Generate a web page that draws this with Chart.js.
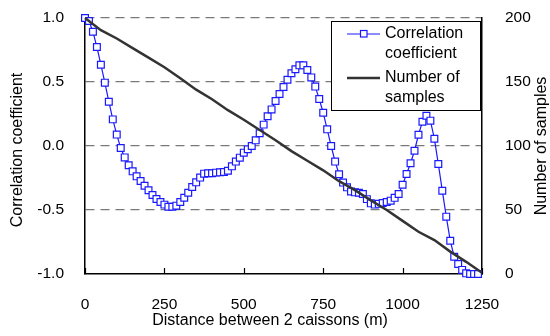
<!DOCTYPE html>
<html>
<head>
<meta charset="utf-8">
<script src="https://cdn.jsdelivr.net/npm/chart.js@4.4.0/dist/chart.umd.min.js"></script>
<style>
  html, body { margin: 0; padding: 0; background: #fff; }
  #wrap { width: 550px; height: 336px; }
</style>
</head>
<body>
<div id="wrap"><canvas id="chart" width="550" height="336"></canvas></div>
<script>
// distance between the 2 caissons (m), one marker every 12.5 m
const distances = [
  0, 12.5, 25, 37.5, 50, 62.5, 75, 87.5, 100, 112.5,
  125, 137.5, 150, 162.5, 175, 187.5, 200, 212.5, 225, 237.5,
  250, 262.5, 275, 287.5, 300, 312.5, 325, 337.5, 350, 362.5,
  375, 387.5, 400, 412.5, 425, 437.5, 450, 462.5, 475, 487.5,
  500, 512.5, 525, 537.5, 550, 562.5, 575, 587.5, 600, 612.5,
  625, 637.5, 650, 662.5, 675, 687.5, 700, 712.5, 725, 737.5,
  750, 762.5, 775, 787.5, 800, 812.5, 825, 837.5, 850, 862.5,
  875, 887.5, 900, 912.5, 925, 937.5, 950, 962.5, 975, 987.5,
  1000, 1012.5, 1025, 1037.5, 1050, 1062.5, 1075, 1087.5, 1100, 1112.5,
  1125, 1137.5, 1150, 1162.5, 1175, 1187.5, 1200, 1212.5, 1225, 1237.5
];

const correlation = [
  1.0, 0.977, 0.893, 0.773, 0.635, 0.495, 0.346, 0.208, 0.089, -0.016,
  -0.089, -0.151, -0.198, -0.237, -0.273, -0.31, -0.346, -0.383, -0.414, -0.438,
  -0.458, -0.474, -0.474, -0.466, -0.438, -0.404, -0.365, -0.32, -0.284, -0.247,
  -0.216, -0.213, -0.213, -0.208, -0.206, -0.203, -0.193, -0.159, -0.122, -0.091,
  -0.052, -0.026, 0.0, 0.044, 0.099, 0.167, 0.232, 0.286, 0.352, 0.406,
  0.461, 0.518, 0.568, 0.599, 0.63, 0.63, 0.594, 0.536, 0.464, 0.367,
  0.26, 0.13, 0.0, -0.122, -0.221, -0.286, -0.323, -0.355, -0.362, -0.365,
  -0.375, -0.415, -0.448, -0.458, -0.452, -0.445, -0.437, -0.427, -0.405, -0.375,
  -0.303, -0.219, -0.135, -0.037, 0.088, 0.19, 0.236, 0.198, 0.057, -0.141,
  -0.349, -0.552, -0.74, -0.865, -0.922, -0.968, -0.995, -1.0, -1.0, -1.0
];

// number of samples, read every 50 m
const sampleDist = [0, 50, 100, 150, 200, 250, 300, 350, 400, 450, 500, 550, 600,
  650, 700, 750, 800, 850, 900, 950, 1000, 1050, 1100, 1150, 1200, 1250];
const sampleCount = [200, 190.5, 184, 176.5, 169, 161.5, 153, 144, 136.5, 128, 120.5, 112.5, 104.5,
  96, 88.5, 81, 72.5, 65.5, 57.5, 50, 41.5, 33, 26.5, 17.5, 9.5, 1];

const xTicks = [0, 250, 500, 750, 1000, 1250];
const leftTicks = [-1.0, -0.5, 0.0, 0.5, 1.0];
const rightTicks = [0, 50, 100, 150, 200];

const FONT = "'Liberation Sans', Arial, sans-serif";
const BLUE = '#1a1aff';

// legend in a box, labels on two lines each
const boxLegend = {
  id: 'boxLegend',
  afterDatasetsDraw(chart) {
    const { ctx, chartArea: a } = chart;
    const x0 = a.right - 151, y0 = a.top + 3, w = 149, h = 89;
    ctx.save();
    ctx.fillStyle = '#fff';
    ctx.fillRect(x0, y0, w, h);
    ctx.strokeStyle = '#000';
    ctx.lineWidth = 1;
    ctx.strokeRect(x0 + 0.5, y0 + 0.5, w, h);

    // blue sample
    ctx.strokeStyle = BLUE;
    ctx.lineWidth = 1.2;
    ctx.beginPath();
    ctx.moveTo(x0 + 16, y0 + 13);
    ctx.lineTo(x0 + 49, y0 + 13);
    ctx.stroke();
    ctx.fillStyle = '#fff';
    ctx.fillRect(x0 + 29, y0 + 10, 7, 7);
    ctx.strokeRect(x0 + 29.5, y0 + 9.5, 6.5, 6.5);

    // black sample
    ctx.strokeStyle = '#333';
    ctx.lineWidth = 2.5;
    ctx.beginPath();
    ctx.moveTo(x0 + 16, y0 + 57);
    ctx.lineTo(x0 + 49, y0 + 57);
    ctx.stroke();

    ctx.fillStyle = '#000';
    ctx.font = '16px ' + FONT;
    ctx.textBaseline = 'middle';
    ctx.textAlign = 'left';
    ctx.fillText('Correlation', x0 + 54, y0 + 13);
    ctx.fillText('coefficient', x0 + 54, y0 + 33);
    ctx.fillText('Number of', x0 + 54, y0 + 57);
    ctx.fillText('samples', x0 + 54, y0 + 77);
    ctx.restore();
  }
};

// inward tick marks on the distance axis, and the three axis titles
const axisExtras = {
  id: 'axisExtras',
  afterDraw(chart) {
    const { ctx, chartArea: a, scales } = chart;
    ctx.save();
    ctx.strokeStyle = '#000';
    ctx.lineWidth = 1.2;
    xTicks.forEach(v => {
      const px = Math.round(scales.x.getPixelForValue(v)) + 0.5;
      ctx.beginPath();
      ctx.moveTo(px, a.bottom);
      ctx.lineTo(px, a.bottom - 6);
      ctx.stroke();
    });
    ctx.fillStyle = '#000';
    ctx.font = '16px ' + FONT;
    ctx.textAlign = 'center';
    ctx.textBaseline = 'middle';
    ctx.fillText('Distance between 2 caissons (m)', 270, chart.height - 15);

    ctx.save();
    ctx.translate(18, (a.top + a.bottom) / 2 + 4);
    ctx.rotate(-Math.PI / 2);
    ctx.fillText('Correlation coefficient', 0, 0);
    ctx.restore();

    ctx.translate(scales.y2.right - 8, (a.top + a.bottom) / 2);
    ctx.rotate(-Math.PI / 2);
    ctx.fillText('Number of samples', 0, 0);
    ctx.restore();
  }
};

new Chart(document.getElementById('chart'), {
  type: 'line',
  data: {
    datasets: [
      {
        label: 'Number of samples',
        data: sampleDist.map((d, i) => ({ x: d, y: sampleCount[i] })),
        yAxisID: 'y2',
        borderColor: '#333',
        borderWidth: 2.5,
        pointRadius: 0,
        tension: 0,
        clip: false,
        order: 0
      },
      {
        label: 'Correlation coefficient',
        data: distances.map((d, i) => ({ x: d, y: correlation[i] })),
        yAxisID: 'y',
        borderColor: BLUE,
        borderWidth: 1.2,
        pointStyle: 'rect',
        pointRadius: 4.8,
        pointBackgroundColor: '#fff',
        pointBorderColor: BLUE,
        pointBorderWidth: 1.2,
        tension: 0,
        clip: false,
        order: 1
      }
    ]
  },
  options: {
    responsive: false,
    animation: false,
    devicePixelRatio: 1,
    layout: { padding: { top: 18, left: 0, right: 0, bottom: 0 } },
    plugins: {
      legend: { display: false },
      tooltip: { enabled: false }
    },
    scales: {
      x: {
        type: 'linear',
        min: 0, max: 1250,
        afterFit: s => { s.height = 62; },
        afterBuildTicks: s => { s.ticks = xTicks.map(v => ({ value: v })); },
        grid: { display: false },
        border: { color: '#000', width: 1.5 },
        ticks: { color: '#000', padding: 13, font: { family: FONT, size: 15.5 }, callback: v => String(v) }
      },
      y: {
        position: 'left',
        min: -1, max: 1,
        afterFit: s => { s.width = 85; s.paddingTop = 0; s.paddingBottom = 0; },
        afterBuildTicks: s => { s.ticks = leftTicks.map(v => ({ value: v })); },
        grid: {
          drawTicks: false,
          color: c => (c.tick && c.tick.value === -1) ? 'rgba(0,0,0,0)' : '#7a7a7a',
          lineWidth: 1.3
        },
        border: { color: '#000', width: 1.5, dash: [9, 6] },
        ticks: {
          color: '#000', padding: 21, font: { family: FONT, size: 15.5 },
          callback: v => v.toFixed(1)
        }
      },
      y2: {
        position: 'right',
        min: 0, max: 200,
        afterFit: s => { s.width = 68; s.paddingTop = 0; s.paddingBottom = 0; },
        afterBuildTicks: s => { s.ticks = rightTicks.map(v => ({ value: v })); },
        grid: { display: false },
        border: { color: '#000', width: 1.5 },
        ticks: { color: '#000', padding: 15, font: { family: FONT, size: 15.5 } }
      }
    }
  },
  plugins: [boxLegend, axisExtras]
});
</script>
</body>
</html>
